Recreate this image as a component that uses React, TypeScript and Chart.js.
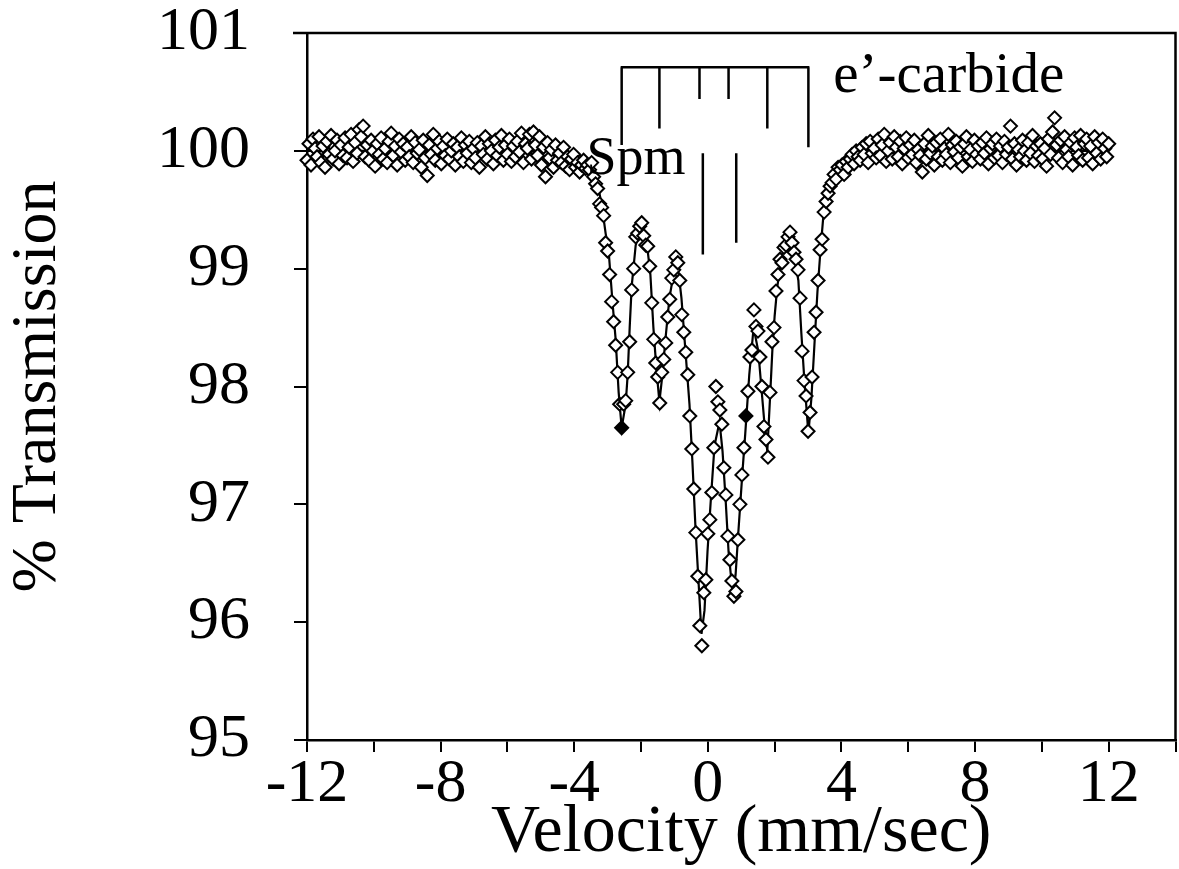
import React, { useEffect, useRef } from 'react';
import { Chart, registerables } from 'chart.js';

Chart.register(...registerables);

// Velocity channels (mm/sec): first channel and channel spacing
const channelStart = -12;
const channelStep = 0.06;

// % Transmission, channel by channel
const transmissionLeft = [
  99.92, 100.06, 99.88, 100.1, 100.02, 99.95, 100.12, 99.9, 100.04, 99.86,
  100.08, 99.97, 100.13, 99.93, 100.0, 100.09, 99.89, 100.05, 99.96, 100.11,
  99.94, 100.03, 100.14, 99.91, 100.07, 99.98, 100.18, 100.12, 100.21, 99.95,
  100.05, 99.92, 100.09, 100.0, 99.87, 100.06, 99.97, 100.11, 99.93, 100.02,
  99.9, 100.08, 100.15, 99.96, 100.04, 99.88, 100.1, 99.99, 100.06, 99.92,
  100.03, 99.95, 100.12, 99.9, 100.07, 99.98, 100.01, 99.86, 100.09, 99.94,
  99.79, 100.05, 99.97, 100.14, 99.92, 100.02, 100.08, 99.89, 100.04, 99.96,
  100.1, 99.93, 100.0, 100.06, 99.88, 100.03, 99.95, 100.11, 99.91, 100.05,
  99.98, 100.08, 99.9, 100.02, 99.94, 100.07, 99.86, 100.04, 99.97, 100.12,
  99.93, 100.06, 100.0, 99.89, 100.09, 99.96, 100.03, 100.13, 99.92, 100.05,
  99.97, 100.1, 99.91, 100.04, 99.95, 100.08, 99.99, 100.15, 99.9, 100.06,
  100.02, 100.14, 99.93, 100.16, 100.05, 99.96, 100.12, 99.88, 100.03, 99.78,
  100.07, 99.94, 100.01, 99.86, 100.05, 99.92, 99.98, 99.9, 100.03, 99.87,
  99.95, 99.84, 99.93, 99.97, 99.86, 99.9, 99.82, 99.88, 99.92, 99.85,
];

const transmissionDip = [
  99.88, 99.84, 99.9, 99.78, 99.72, 99.68, 99.55, 99.52, 99.45, 99.22,
  99.15, 98.95, 98.72, 98.55, 98.35, 98.12, 97.85, 97.65, 97.85, 97.88,
  98.12, 98.38, 98.82, 99.0, 99.27, 99.3, 99.36, 99.39, 99.28, 99.2,
  99.19, 99.02, 98.71, 98.4, 98.2, 98.08, 97.86, 98.12, 98.23, 98.37,
  98.59, 98.74, 98.92, 98.99, 99.1, 99.05, 98.9, 98.61, 98.46, 98.29,
  98.1, 97.75, 97.47, 97.13, 96.76, 96.39, 95.97, 95.8, 96.25, 96.36,
  96.75, 96.87, 97.1, 97.48, 98.0, 97.87, 97.8, 97.68, 97.31, 97.08,
  96.73, 96.53, 96.35, 96.22, 96.26, 96.7, 97.0, 97.25, 97.48, 97.75,
  97.96, 98.25, 98.31, 98.65, 98.51, 98.47, 98.25, 98.0, 97.66, 97.55,
  97.4, 97.95, 98.38, 98.5, 98.81, 98.95, 99.08, 99.05, 99.18, 99.2,
  99.27, 99.31, 99.22, 99.14, 99.08, 98.99, 98.75, 98.3, 98.05, 97.92,
  97.62, 97.78, 98.08, 98.46, 98.63, 98.9, 99.16, 99.25, 99.48, 99.57,
  99.64, 99.7, 99.73, 99.8, 99.76, 99.86,
];

const transmissionRight = [
  99.84, 99.88, 99.8, 99.91, 99.86, 99.93, 99.97, 99.89, 100.0, 99.95,
  99.92, 100.03, 99.97, 100.06, 99.9, 100.08, 99.98, 100.02, 99.94, 100.1,
  99.96, 100.05, 100.14, 99.91, 100.0, 100.07, 99.93, 100.12, 100.03, 99.95,
  100.08, 99.89, 100.02, 100.11, 99.94, 100.05, 99.97, 100.09, 99.9, 100.01,
  99.96, 99.82, 100.06, 99.93, 100.13, 99.98, 100.04, 99.88, 100.07, 99.95,
  100.1, 99.92, 100.02, 99.97, 100.14, 99.9, 100.05, 99.99, 100.08, 99.94,
  100.03, 99.87, 100.06, 100.12, 99.95, 100.01, 99.91, 100.09, 99.97, 100.04,
  99.93, 100.07, 99.98, 100.11, 99.89, 100.02, 100.06, 99.94, 100.1, 99.96,
  100.04, 99.9, 100.08, 99.97, 100.03, 100.21, 99.93, 100.06, 99.88, 100.01,
  99.95, 100.09, 100.0, 99.92, 100.07, 99.98, 100.13, 99.91, 100.04, 99.96,
  100.06, 99.93, 100.02, 99.87, 100.1, 99.97, 100.16, 100.28, 100.05, 99.94,
  100.09, 99.9, 100.12, 100.01, 99.95, 100.07, 99.88, 100.11, 100.03, 99.96,
  100.13, 99.92, 100.06, 100.1, 99.94, 100.04, 99.89, 100.12, 99.98, 100.07,
  99.93, 100.1, 100.02, 99.95, 100.06,
];

// channels drawn as solid (overlapping) diamonds
const filledChannels = [157, 219];

// fitted curve
const fitVelocity = [
  -12, -4.47, -3.87, -3.57, -3.36, -3.18, -3.06, -2.97, -2.85, -2.76, -2.67, -2.58,
  -2.46, -2.4, -2.34, -2.28, -2.16, -1.98, -1.84, -1.72, -1.63, -1.54, -1.45, -1.36,
  -1.27, -1.15, -1.0, -0.91, -0.79, -0.67, -0.55, -0.46, -0.37, -0.28, -0.19, -0.1,
  -0.01, 0.08, 0.2, 0.35, 0.44, 0.53, 0.62, 0.74, 0.83, 0.91, 1.03, 1.12, 1.24, 1.37,
  1.51, 1.6, 1.69, 1.78, 1.87, 1.93, 2.0, 2.08, 2.23, 2.44, 2.59, 2.71, 2.8, 2.89,
  3.01, 3.1, 3.19, 3.28, 3.37, 3.45, 3.55, 3.7, 3.9, 4.35, 4.95, 5.7, 12,
];
const fitTransmission = [
  100.0, 100.0, 99.97, 99.9, 99.8, 99.55, 99.3, 99.15, 98.7, 98.4, 97.95, 97.65,
  97.85, 98.1, 98.5, 98.85, 99.2, 99.36, 99.25, 98.95, 98.5, 98.15, 97.87, 98.1,
  98.4, 98.75, 99.0, 99.05, 98.75, 98.3, 97.85, 97.35, 96.8, 96.35, 95.9, 96.1,
  96.6, 97.0, 97.5, 97.7, 97.45, 97.05, 96.6, 96.25, 96.4, 96.75, 97.25, 97.6, 98.1, 98.5,
  98.3, 98.0, 97.7, 97.45, 97.95, 98.3, 98.6, 98.85, 99.12, 99.28, 99.1, 98.9, 98.45, 98.05,
  97.6, 97.9, 98.35, 98.8, 99.15, 99.42, 99.58, 99.72, 99.82, 99.93, 99.98, 100.0, 100.0,
];

// axis ticks
const xLabelValues = [-12, -8, -4, 0, 4, 8, 12];
const yTickValues = [95, 96, 97, 98, 99, 100, 101];

// stick diagrams
const sextetVelocity = [-2.58, -1.45, -0.25, 0.62, 1.78, 3.01];
const sextetStickEnd = [100.05, 100.19, 100.44, 100.44, 100.19, 100.03];
const sextetBracketTop = 100.71;
const spmVelocity = [-0.15, 0.85];
const spmStickTop = 99.98;
const spmStickEnd = [99.12, 99.22];

// annotation labels
const labelTexts = ['Spm', 'e\u2019-carbide'];
const labelVelocity = [-3.63, 3.755];
const labelTransmission = [99.8, 100.5];
const labelSizes = [54, 57];

const FONT = "'Liberation Serif', 'Times New Roman', serif";

const overlayPlugin = {
  id: 'overlay',
  afterDatasetsDraw(chart: any) {
    const { ctx, chartArea: a, scales } = chart;
    const x = scales.x;
    const y = scales.y;
    ctx.save();
    ctx.strokeStyle = '#000';
    ctx.lineCap = 'butt';
    // top & right frame
    ctx.lineWidth = 2.5;
    ctx.beginPath();
    ctx.moveTo(a.left - 14, a.top);
    ctx.lineTo(a.right, a.top);
    ctx.lineTo(a.right, a.bottom);
    ctx.stroke();

    // sextet bracket
    ctx.lineWidth = 2.5;
    const top = y.getPixelForValue(sextetBracketTop);
    ctx.beginPath();
    ctx.moveTo(x.getPixelForValue(sextetVelocity[0]) - 1, top);
    ctx.lineTo(x.getPixelForValue(sextetVelocity[sextetVelocity.length - 1]) + 1, top);
    sextetVelocity.forEach((v, i) => {
      const px = x.getPixelForValue(v);
      ctx.moveTo(px, top);
      ctx.lineTo(px, y.getPixelForValue(sextetStickEnd[i]));
    });
    ctx.stroke();

    // Spm doublet sticks
    ctx.beginPath();
    spmVelocity.forEach((v, i) => {
      const px = x.getPixelForValue(v);
      ctx.moveTo(px, y.getPixelForValue(spmStickTop));
      ctx.lineTo(px, y.getPixelForValue(spmStickEnd[i]));
    });
    ctx.stroke();

    // labels
    ctx.fillStyle = '#000';
    ctx.textAlign = 'left';
    ctx.textBaseline = 'alphabetic';
    labelTexts.forEach((t, i) => {
      ctx.font = `${labelSizes[i]}px ${FONT}`;
      ctx.fillText(t, x.getPixelForValue(labelVelocity[i]), y.getPixelForValue(labelTransmission[i]));
    });
    ctx.restore();
  },
};

const CANVAS_W = 1184;

export default function App() {
  const ref = useRef<HTMLCanvasElement | null>(null);

  useEffect(() => {
    if (!ref.current) return;
    const points = transmissionLeft
      .concat(transmissionDip, transmissionRight)
      .map((t, i) => ({ x: channelStart + i * channelStep, y: t }));
    const fit = fitVelocity.map((v, i) => ({ x: v, y: fitTransmission[i] }));

    const chart = new Chart(ref.current, {
      type: 'scatter',
      data: {
        datasets: [
          {
            label: 'data',
            data: points,
            order: 1,
            showLine: false,
            pointStyle: 'rectRot',
            pointRadius: 6.5,
            pointBorderWidth: 2,
            pointBorderColor: '#000',
            pointBackgroundColor: (c: any) => (filledChannels.includes(c.dataIndex) ? '#000' : '#fff'),
            clip: false,
          } as any,
          {
            label: 'fit',
            data: fit,
            order: 2,
            showLine: true,
            borderColor: '#000',
            borderWidth: 2.2,
            pointRadius: 0,
            tension: 0,
          } as any,
        ],
      },
      options: {
        animation: false,
        responsive: false,
        devicePixelRatio: 1,
        layout: { padding: { top: 33, right: 0, left: 0, bottom: 0 } },
        plugins: { legend: { display: false }, tooltip: { enabled: false } },
        scales: {
          x: {
            type: 'linear',
            min: -12,
            max: 14,
            afterFit: (s: any) => {
              s.height = 129;
              s.paddingLeft = 0;
              s.paddingRight = 0;
            },
            ticks: {
              stepSize: 2,
              autoSkip: false,
              maxRotation: 0,
              minRotation: 0,
              padding: -4,
              color: '#000',
              font: { family: FONT, size: 62 },
              callback: (v: any) => {
                const r = Math.round(Number(v));
                return xLabelValues.includes(r) ? String(r) : '';
              },
            },
            grid: { drawOnChartArea: false, drawTicks: true, tickLength: 12, color: '#000', lineWidth: 2 },
            border: { display: true, color: '#000', width: 2.5 },
            title: {
              display: true,
              text: 'Velocity (mm/sec)',
              color: '#000',
              font: { family: FONT, size: 68, lineHeight: 1 },
              padding: { top: 0, bottom: 2 },
            },
          },
          y: {
            type: 'linear',
            min: 95,
            max: 101,
            afterFit: (s: any) => {
              s.width = 307;
              s.paddingTop = 0;
              s.paddingBottom = 0;
            },
            afterBuildTicks: (s: any) => {
              s.ticks = yTickValues.map((v) => ({ value: v }));
            },
            ticks: {
              padding: 44,
              color: '#000',
              font: { family: FONT, size: 62 },
              callback: (v: any) => String(Math.round(Number(v))),
            },
            grid: { drawOnChartArea: false, drawTicks: true, tickLength: 13, color: '#000', lineWidth: 2 },
            border: { display: true, color: '#000', width: 2.5 },
            title: {
              display: true,
              text: '% Transmission',
              color: '#000',
              font: { family: FONT, size: 64, lineHeight: 1.2 },
              padding: { top: 0, bottom: 0 },
            },
          },
        },
      },
      plugins: [overlayPlugin],
    });
    return () => chart.destroy();
  }, []);

  return (
    <div style={{ position: 'absolute', left: 0, top: 0, width: 1179, height: 869, overflow: 'hidden', background: '#fff' }}>
      <canvas ref={ref} width={CANVAS_W} height={869} style={{ display: 'block', width: CANVAS_W, height: 869 }} />
    </div>
  );
}
